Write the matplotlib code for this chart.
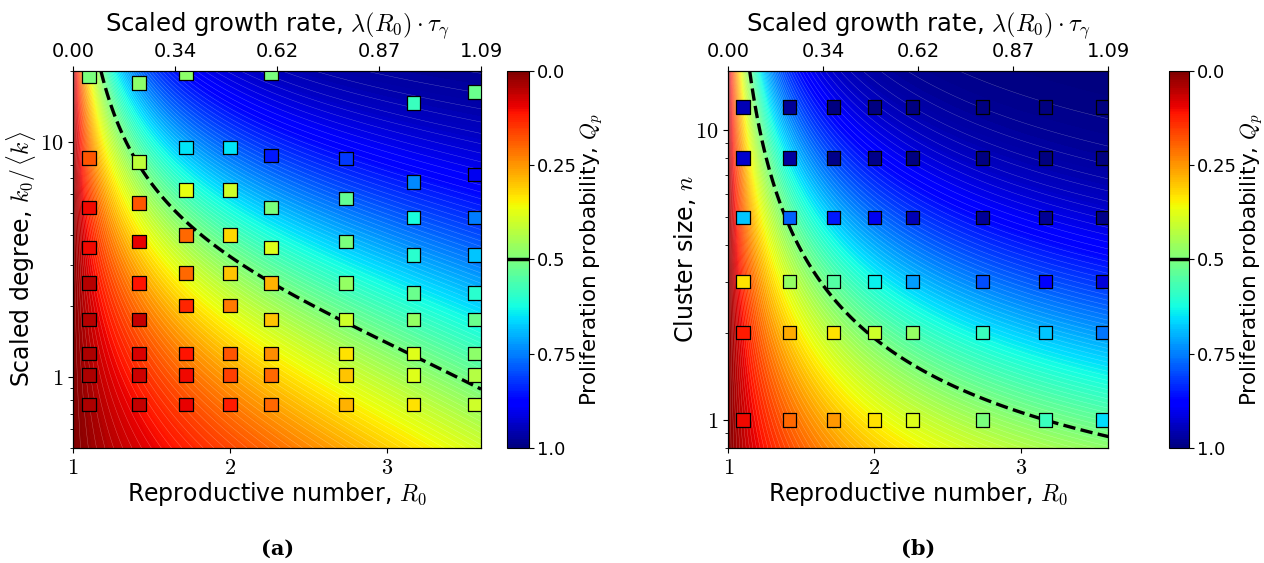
import numpy as np
import matplotlib
matplotlib.use("Agg")
import matplotlib.pyplot as plt
from matplotlib.ticker import FixedLocator, FixedFormatter, LogLocator, NullFormatter

plt.rcParams['font.family'] = ['DejaVu Sans']
plt.rcParams['mathtext.fontset'] = 'cm'

# ---- data ----
growth_labels = ['0.00', '0.34', '0.62', '0.87', '1.09']
r0_cols = [1.10, 1.42, 1.72, 2.00, 2.26, 2.74, 3.17, 3.56]

# panel (a): scaled degree of every simulated point, one list per R0 column
deg_a = [
    [19.0, 8.54, 5.25, 3.56, 2.51, 1.76, 1.26, 1.02, 0.764],
    [17.8, 8.21, 5.51, 3.77, 2.51, 1.76, 1.26, 1.02, 0.764],
    [19.6, 9.46, 6.23, 4.01, 2.77, 2.02, 1.26, 1.02, 0.764],
    [9.46, 6.23, 4.01, 2.77, 2.02, 1.26, 1.02, 0.764],
    [19.6, 8.73, 5.25, 3.56, 2.51, 1.76, 1.26, 1.02, 0.764],
    [8.48, 5.75, 3.77, 2.51, 1.76, 1.26, 1.02, 0.764],
    [14.6, 6.76, 4.76, 3.30, 2.28, 1.76, 1.26, 1.02, 0.764],
    [16.3, 7.26, 4.76, 3.30, 2.28, 1.76, 1.26, 1.02, 0.764],
]
qp_a = [
    [0.50, 0.18, 0.10, 0.10, 0.05, 0.05, 0.04, 0.04, 0.04],
    [0.48, 0.42, 0.18, 0.09, 0.11, 0.06, 0.08, 0.07, 0.06],
    [0.48, 0.65, 0.37, 0.20, 0.20, 0.13, 0.11, 0.10, 0.09],
    [0.65, 0.40, 0.32, 0.30, 0.22, 0.18, 0.16, 0.12],
    [0.50, 0.85, 0.50, 0.38, 0.28, 0.30, 0.24, 0.20, 0.20],
    [0.82, 0.53, 0.50, 0.47, 0.40, 0.33, 0.30, 0.28],
    [0.58, 0.74, 0.62, 0.60, 0.52, 0.47, 0.38, 0.38, 0.33],
    [0.52, 0.90, 0.75, 0.68, 0.60, 0.52, 0.48, 0.43, 0.40],
]

# panel (b): cluster sizes (rows) x R0 columns
sizes_b = [1, 2, 3, 5, 8, 12]
qp_b = [
    [0.10, 0.20, 0.25, 0.33, 0.38, 0.50, 0.58, 0.66],
    [0.12, 0.27, 0.33, 0.40, 0.47, 0.58, 0.68, 0.76],
    [0.33, 0.47, 0.55, 0.64, 0.72, 0.80, 0.88, 0.92],
    [0.68, 0.78, 0.85, 0.90, 0.95, 0.98, 0.98, 0.99],
    [0.93, 0.97, 0.99, 0.99, 1.00, 1.00, 1.00, 1.00],
    [0.95, 0.98, 1.00, 1.00, 1.00, 1.00, 1.00, 1.00],
]

# theory background (branching process, negative-binomial offspring)
disp_k = 0.47
size_exp = 0.75


def extinction(r0, k):
    q = np.zeros_like(r0)
    for _ in range(3000):
        q = (1 + r0 * (1 - q) / k) ** (-k)
    return q


def degree_weight(r0, s):
    a = 0.82 - 0.10 * (r0 - 1)
    c = 0.59 + 0.08 * (r0 - 1) + 0.025 * (r0 - 1) ** 2
    return c * s ** a


r0_grid = np.linspace(1.0, 3.6, 300)
fig = plt.figure(figsize=(12.64, 5.63), dpi=100)

panels = [
    dict(pos=[0.0578, 0.2043, 0.3228, 0.6696], cpos=[0.4009, 0.2043, 0.0179, 0.6696],
         ylim=(0.5, 20), ylabel=r'Scaled degree, $k_0/\,\langle k\rangle$', tag='(a)',
         ylab_x=-0.085),
    dict(pos=[0.5762, 0.2043, 0.3006, 0.6696], cpos=[0.9251, 0.2043, 0.0158, 0.6696],
         ylim=(0.8, 16), ylabel=r'Cluster size, $n$', tag='(b)', ylab_x=-0.08),
]

for i, p in enumerate(panels):
    ax = fig.add_axes(p['pos'])
    y_grid = np.logspace(np.log10(p['ylim'][0]), np.log10(p['ylim'][1]), 300)
    R, Y = np.meshgrid(r0_grid, y_grid)
    q = extinction(R, disp_k)
    if i == 0:
        Q = 1 - q ** degree_weight(R, Y)
    else:
        Q = 1 - q ** (Y ** size_exp)

    cf = ax.contourf(R, Y, Q, levels=np.linspace(0, 1, 201), cmap='jet_r', vmin=0, vmax=1)
    ax.contour(R, Y, Q, levels=np.linspace(0.01, 0.99, 99), colors='white',
               linewidths=0.3, alpha=0.35)
    ax.contour(R, Y, Q, levels=[0.5], colors='k', linewidths=2.4, linestyles='--')

    if i == 0:
        for r0, ys, cs in zip(r0_cols, deg_a, qp_a):
            ax.scatter([r0] * len(ys), ys, c=cs, cmap='jet_r', vmin=0, vmax=1,
                       marker='s', s=95, edgecolors='k', linewidths=0.9, zorder=5)
    else:
        for n, cs in zip(sizes_b, qp_b):
            ax.scatter(r0_cols, [n] * len(cs), c=cs, cmap='jet_r', vmin=0, vmax=1,
                       marker='s', s=95, edgecolors='k', linewidths=0.9, zorder=5)

    ax.set_yscale('log')
    ax.set_xlim(1, 3.6)
    ax.set_ylim(*p['ylim'])
    ax.xaxis.set_major_locator(FixedLocator([1, 2, 3]))
    ax.xaxis.set_major_formatter(FixedFormatter(['$1$', '$2$', '$3$']))
    ax.yaxis.set_major_locator(FixedLocator([1, 10]))
    ax.yaxis.set_major_formatter(FixedFormatter(['$1$', '$10$']))
    ax.yaxis.set_minor_locator(LogLocator(subs=np.arange(2, 10)))
    ax.yaxis.set_minor_formatter(NullFormatter())
    ax.tick_params(labelsize=16)
    ax.set_xlabel(r'Reproductive number, $R_0$', fontsize=17, labelpad=2)
    ax.set_ylabel(p['ylabel'], fontsize=17)
    ax.yaxis.set_label_coords(p['ylab_x'], 0.5)

    top = ax.twiny()
    top.set_xlim(1, 3.6)
    top.set_xticks(np.linspace(1, 3.6, len(growth_labels)))
    top.set_xticklabels(growth_labels, fontsize=14)
    top.set_xlabel(r'Scaled growth rate, $\lambda(R_0)\cdot\tau_\gamma$', fontsize=17.5, labelpad=8)

    cax = fig.add_axes(p['cpos'])
    cb = fig.colorbar(cf, cax=cax, ticks=[0, 0.25, 0.5, 0.75, 1.0])
    cb.ax.set_yticklabels(['0.0', '0.25', '0.5', '0.75', '1.0'])
    cb.ax.invert_yaxis()
    cb.ax.tick_params(labelsize=13, pad=2)
    cb.ax.axhline(0.5, color='k', lw=2.5)
    cb.set_label(r'Proliferation probability, $Q_p$', fontsize=15.5, labelpad=1)

    cx = p['pos'][0] + p['pos'][2] / 2
    fig.text(cx, 0.025, p['tag'], ha='center', va='center', fontsize=15,
             fontweight='bold', family='DejaVu Serif')

fig.savefig('out.png', dpi=100)
